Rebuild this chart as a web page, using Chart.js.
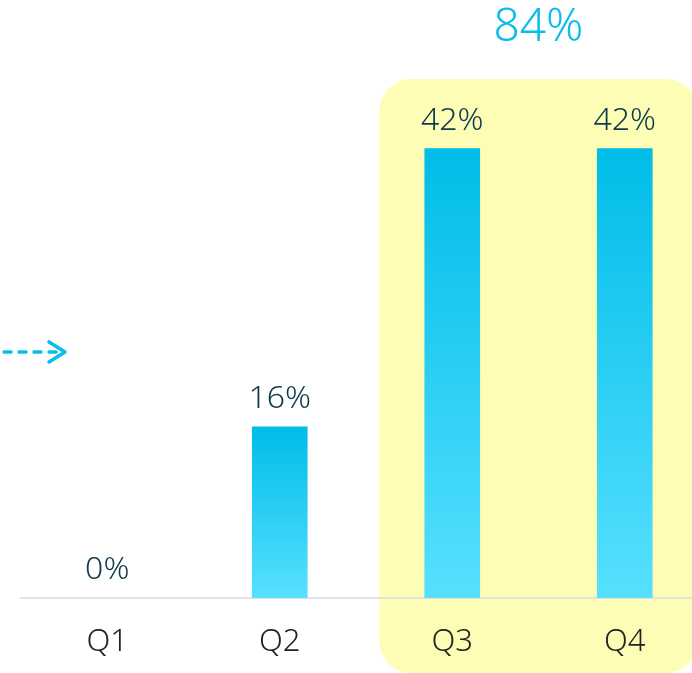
<!DOCTYPE html>
<html>
<head>
<meta charset="utf-8">
<script src="https://cdn.jsdelivr.net/npm/chart.js@4"></script>
<style>
html, body { margin: 0; padding: 0; background: #fff; overflow: hidden; }
#wrap { width: 712px; height: 673px; }
</style>
</head>
<body>
<div id="wrap"><canvas id="chart" width="712" height="673"></canvas></div>
<script>
const quarters = ['Q1', 'Q2', 'Q3', 'Q4'];
const shares = [0, 16, 42, 42];
const highlighted = ['Q3', 'Q4'];
const arrowValue = 23;
const yMax = 50;

const FONT = '"Noto Sans", "Open Sans", sans-serif';

function barGradient(context) {
    const chart = context.chart;
    const { ctx, chartArea, scales } = chart;
    if (!chartArea || !scales.y) return '#1fc8ee';
    const top = scales.y.getPixelForValue(context.raw);
    const bottom = scales.y.getPixelForValue(0);
    if (bottom - top < 1) return 'rgba(0,0,0,0)';
    const g = ctx.createLinearGradient(0, top, 0, bottom);
    g.addColorStop(0, '#00bde8');
    g.addColorStop(1, '#57e0ff');
    return g;
}

// yellow box behind the highlighted quarters + the total above it
const highlightPlugin = {
    id: 'highlight',
    beforeDraw(chart) {
        const { ctx, chartArea, scales } = chart;
        const xs = highlighted.map(q => scales.x.getPixelForValue(quarters.indexOf(q)));
        const left = Math.min(...xs) - 73;
        const right = Math.max(...xs) + 73;
        const top = chartArea.top + 16;
        const bottom = chart.height;
        ctx.save();
        ctx.fillStyle = '#fefdb5';
        ctx.beginPath();
        ctx.roundRect(left, top, right - left, bottom - top, 32);
        ctx.fill();

        const total = highlighted.reduce((s, q) => s + shares[quarters.indexOf(q)], 0);
        ctx.fillStyle = '#0bbde8';
        ctx.font = '300 46px ' + FONT;
        ctx.textAlign = 'center';
        ctx.textBaseline = 'alphabetic';
        ctx.fillText(total + '%', (left + right) / 2, 41);
        ctx.restore();
    },
    afterDatasetsDraw(chart) {
        const { ctx, scales } = chart;
        const meta = chart.getDatasetMeta(0);
        ctx.save();
        ctx.fillStyle = '#0e3a4c';
        ctx.font = '300 32px ' + FONT;
        ctx.textAlign = 'center';
        ctx.textBaseline = 'alphabetic';
        meta.data.forEach((bar, i) => {
            ctx.fillText(shares[i] + '%', bar.x, bar.y - 19);
        });

        // dashed pointer arrow on the left
        const y = scales.y.getPixelForValue(arrowValue);
        ctx.strokeStyle = '#0bbde8';
        ctx.lineWidth = 3.5;
        ctx.lineCap = 'round';
        ctx.lineJoin = 'round';
        ctx.setLineDash([7, 8]);
        ctx.beginPath();
        ctx.moveTo(4, y);
        ctx.lineTo(58, y);
        ctx.stroke();
        ctx.setLineDash([]);
        ctx.beginPath();
        ctx.moveTo(49, y - 10);
        ctx.lineTo(65, y);
        ctx.lineTo(49, y + 10);
        ctx.stroke();
        ctx.restore();
    }
};

new Chart(document.getElementById('chart'), {
    type: 'bar',
    data: {
        labels: quarters,
        datasets: [{
            data: shares,
            backgroundColor: barGradient,
            barThickness: 55,
            borderWidth: 0
        }]
    },
    options: {
        responsive: false,
        animation: false,
        devicePixelRatio: 1,
        layout: { padding: { top: 63, left: 21, right: 1, bottom: 0 } },
        plugins: {
            legend: { display: false },
            tooltip: { enabled: false }
        },
        scales: {
            x: {
                grid: { display: false },
                border: { display: true, color: '#e2e2e2', width: 2 },
                ticks: {
                    color: '#222222',
                    font: { family: FONT, size: 31, weight: 300 },
                    padding: 18
                },
                afterFit(scale) { scale.height = 75; }
            },
            y: {
                display: false,
                min: 0,
                max: yMax
            }
        }
    },
    plugins: [highlightPlugin]
});
</script>
</body>
</html>
